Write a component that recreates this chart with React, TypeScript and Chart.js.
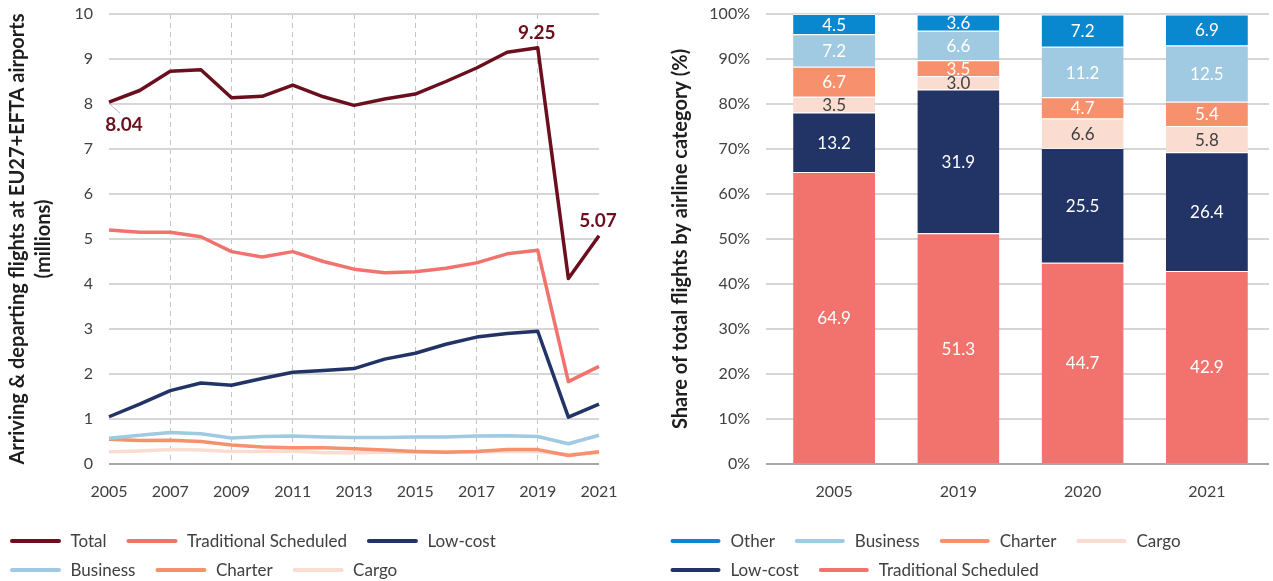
import React, { useEffect, useRef } from "react";
import { Chart, registerables } from "chart.js";

Chart.register(...registerables);
Chart.defaults.font.family = "Lato";

// ---------- Left chart data (millions of flights) ----------
const years = ["2005", "2006", "2007", "2008", "2009", "2010", "2011", "2012", "2013", "2014", "2015", "2016", "2017", "2018", "2019", "2020", "2021"];
const totalFlights = [8.04, 8.3, 8.73, 8.76, 8.14, 8.17, 8.42, 8.16, 7.97, 8.11, 8.22, 8.5, 8.8, 9.15, 9.25, 4.12, 5.07];
const traditionalFlights = [5.2, 5.15, 5.15, 5.05, 4.72, 4.6, 4.72, 4.5, 4.33, 4.25, 4.27, 4.35, 4.47, 4.67, 4.75, 1.83, 2.17];
const lowCostFlights = [1.05, 1.33, 1.63, 1.8, 1.75, 1.9, 2.04, 2.08, 2.12, 2.33, 2.46, 2.66, 2.82, 2.9, 2.95, 1.04, 1.33];
const businessFlights = [0.57, 0.64, 0.7, 0.67, 0.58, 0.61, 0.62, 0.6, 0.59, 0.59, 0.6, 0.6, 0.62, 0.63, 0.61, 0.45, 0.64];
const charterFlights = [0.55, 0.52, 0.53, 0.5, 0.42, 0.38, 0.36, 0.36, 0.34, 0.31, 0.28, 0.26, 0.28, 0.32, 0.32, 0.19, 0.27];
const cargoFlights = [0.27, 0.29, 0.32, 0.31, 0.28, 0.28, 0.29, 0.25, 0.25, 0.26, 0.26, 0.27, 0.27, 0.28, 0.28, 0.21, 0.25];
const highlightedTotalYears = ["2005", "2019", "2021"];
const leftTitle = ["Arriving & departing flights at EU27+EFTA airports", "(millions)"];

// ---------- Right chart data (share %) ----------
const shareYears = ["2005", "2019", "2020", "2021"];
const shareTraditional = [64.9, 51.3, 44.7, 42.9];
const shareLowCost = [13.2, 31.9, 25.5, 26.4];
const shareCargo = [3.5, 3.0, 6.6, 5.8];
const shareCharter = [6.7, 3.5, 4.7, 5.4];
const shareBusiness = [7.2, 6.6, 11.2, 12.5];
const shareOther = [4.5, 3.6, 7.2, 6.9];
const rightTitle = "Share of total flights by airline category (%)";

const C = {
  total: "#6b0f1e",
  trad: "#f2736e",
  low: "#223366",
  business: "#a0c9e2",
  charter: "#f7906d",
  cargo: "#fbdcd0",
  other: "#0988d0",
};

const TEXT = "#404040";

const lineLegendPlugin = {
  id: "lineLegend",
  afterDraw(chart: any, _args: any, opts: any) {
    const { ctx } = chart;
    let items = chart.data.datasets.map((d: any) => ({ label: d.label, color: d.legendColor || d.borderColor }));
    if (opts.reverse) items = items.slice().reverse();
    ctx.save();
    ctx.font = "17px Lato";
    ctx.textBaseline = "middle";
    ctx.textAlign = "left";
    let x = opts.x;
    let y = opts.y;
    items.forEach((it: any) => {
      const tw = ctx.measureText(it.label).width;
      const w = opts.lineLength + opts.textGap + tw;
      if (x > opts.x && x + w > opts.maxX) {
        x = opts.x;
        y += opts.rowGap;
      }
      ctx.strokeStyle = it.color;
      ctx.lineWidth = 4;
      ctx.lineCap = "round";
      ctx.beginPath();
      ctx.moveTo(x + 2, y);
      ctx.lineTo(x + opts.lineLength - 2, y);
      ctx.stroke();
      ctx.fillStyle = TEXT;
      ctx.fillText(it.label, x + opts.lineLength + opts.textGap, y + 1);
      x += w + opts.itemGap;
    });
    ctx.restore();
  },
};

const valueLabelsPlugin = {
  id: "valueLabels",
  afterDatasetsDraw(chart: any, _args: any, opts: any) {
    const { ctx } = chart;
    const meta = chart.getDatasetMeta(opts.datasetIndex);
    const ds = chart.data.datasets[opts.datasetIndex];
    ctx.save();
    ctx.font = "bold 19px Lato";
    ctx.textAlign = "center";
    ctx.textBaseline = "middle";
    opts.points.forEach((p: any) => {
      const idx = chart.data.labels.indexOf(p.label);
      const el = meta.data[idx];
      if (!el) return;
      if (p.leader) {
        ctx.strokeStyle = "#b8b8b8";
        ctx.lineWidth = 1;
        ctx.beginPath();
        ctx.moveTo(el.x + 1, el.y + 2);
        ctx.lineTo(el.x + p.leader[0], el.y + p.leader[1]);
        ctx.stroke();
      }
      ctx.fillStyle = ds.borderColor;
      ctx.fillText(ds.data[idx].toFixed(2), el.x + p.dx, el.y + p.dy);
    });
    ctx.restore();
  },
};

const barLabelsPlugin = {
  id: "barLabels",
  afterDatasetsDraw(chart: any) {
    const { ctx } = chart;
    ctx.save();
    ctx.font = "17px Lato";
    ctx.textAlign = "center";
    ctx.textBaseline = "middle";
    chart.data.datasets.forEach((ds: any, di: number) => {
      const meta = chart.getDatasetMeta(di);
      meta.data.forEach((bar: any, i: number) => {
        ctx.fillStyle = ds.labelColor;
        ctx.fillText(ds.data[i].toFixed(1), bar.x, (bar.y + bar.base) / 2 + 1);
      });
    });
    ctx.restore();
  },
};

const noScalePadding = (s: any) => {
  s.paddingTop = 0;
  s.paddingBottom = 0;
};

function LeftChart() {
  const ref = useRef<HTMLCanvasElement>(null);
  useEffect(() => {
    const mk = (label: string, data: number[], color: string) => ({
      label,
      data,
      borderColor: color,
      backgroundColor: color,
      borderWidth: 3.5,
      pointRadius: 0,
      tension: 0,
      borderJoinStyle: "round" as const,
      fill: false,
    });
    const chart = new Chart(ref.current!, {
      type: "line",
      data: {
        labels: years,
        datasets: [
          mk("Total", totalFlights, C.total),
          mk("Traditional Scheduled", traditionalFlights, C.trad),
          mk("Low-cost", lowCostFlights, C.low),
          mk("Business", businessFlights, C.business),
          mk("Charter", charterFlights, C.charter),
          mk("Cargo", cargoFlights, C.cargo),
        ],
      },
      options: {
        animation: false,
        responsive: false,
        devicePixelRatio: 1,
        layout: { padding: { left: 0, right: 41, top: 14, bottom: 67 } },
        plugins: {
          legend: { display: false },
          tooltip: { enabled: false },
          lineLegend: { x: 10, y: 541, lineLength: 51, textGap: 9.5, itemGap: 20, rowGap: 29, maxX: 560 },
          valueLabels: {
            datasetIndex: 0,
            points: [
              { label: highlightedTotalYears[0], dx: 15, dy: 23, leader: [11, 11] },
              { label: highlightedTotalYears[1], dx: -1, dy: -15 },
              { label: highlightedTotalYears[2], dx: -1, dy: -15 },
            ],
          },
        } as any,
        scales: {
          x: {
            offset: false,
            grid: {
              color: (c: any) => (c.index > 0 && c.index < years.length - 1 && c.index % 2 === 0 ? "#c4c4c4" : "rgba(0,0,0,0)"),
              lineWidth: 1,
              drawTicks: false,
            },
            border: { display: false, dash: [5, 4] },
            ticks: {
              autoSkip: false,
              maxRotation: 0,
              padding: 18,
              color: TEXT,
              font: { size: 16 },
              callback: (_v: any, i: number) => (i % 2 === 0 ? years[i] : ""),
            },
            afterFit: (s: any) => {
              s.height = 50;
            },
          },
          y: {
            min: 0,
            max: 10,
            grid: {
              color: (c: any) => (c.tick && c.tick.value === 0 ? "#a8a8a8" : "#d6d6d6"),
              lineWidth: 2,
              drawTicks: false,
            },
            border: { display: false },
            ticks: { stepSize: 1, padding: 16, color: TEXT, font: { size: 16 } },
            title: {
              display: true,
              text: leftTitle,
              color: "#1e1e1e",
              font: { size: 20, weight: "bold", lineHeight: 1.3 },
              padding: { top: 5, bottom: 0 },
            },
            afterFit: (s: any) => {
              s.width = 109;
              noScalePadding(s);
            },
          },
        },
      },
      plugins: [lineLegendPlugin, valueLabelsPlugin],
    } as any);
    return () => chart.destroy();
  }, []);
  return <canvas ref={ref} width={640} height={581} style={{ position: "absolute", left: 0, top: 0, width: 640, height: 581 }} />;
}

function RightChart() {
  const ref = useRef<HTMLCanvasElement>(null);
  useEffect(() => {
    const mk = (label: string, data: number[], color: string, labelColor: string) => ({
      label,
      data,
      backgroundColor: color,
      borderColor: "rgba(255,255,255,0.7)",
      legendColor: color,
      labelColor,
      borderWidth: { top: 1, bottom: 0, left: 0, right: 0 },
      borderSkipped: false,
      barPercentage: 0.66,
      categoryPercentage: 1,
    });
    const chart = new Chart(ref.current!, {
      type: "bar",
      data: {
        labels: shareYears,
        datasets: [
          mk("Traditional Scheduled", shareTraditional, C.trad, "#ffffff"),
          mk("Low-cost", shareLowCost, C.low, "#ffffff"),
          mk("Cargo", shareCargo, C.cargo, "#404040"),
          mk("Charter", shareCharter, C.charter, "#ffffff"),
          mk("Business", shareBusiness, C.business, "#ffffff"),
          mk("Other", shareOther, C.other, "#ffffff"),
        ],
      },
      options: {
        animation: false,
        responsive: false,
        devicePixelRatio: 1,
        layout: { padding: { left: 0, right: 4, top: 14, bottom: 67 } },
        plugins: {
          legend: { display: false },
          tooltip: { enabled: false },
          lineLegend: { x: 30.5, y: 541, lineLength: 50, textGap: 10, itemGap: 20, rowGap: 29, maxX: 620, reverse: true },
        } as any,
        scales: {
          x: {
            stacked: true,
            grid: { display: false, drawTicks: false },
            border: { display: false },
            ticks: { padding: 18, color: TEXT, font: { size: 16 }, maxRotation: 0 },
            afterFit: (s: any) => {
              s.height = 50;
            },
          },
          y: {
            stacked: true,
            min: 0,
            max: 100,
            grid: {
              color: (c: any) => (c.tick && c.tick.value === 0 ? "#a8a8a8" : "#d6d6d6"),
              tickColor: (c: any) => (c.tick && c.tick.value === 0 ? "#a8a8a8" : "#d6d6d6"),
              lineWidth: 2,
              tickWidth: 2,
              drawTicks: true,
              tickLength: 6,
            },
            border: { display: false },
            ticks: { stepSize: 10, padding: 16, color: TEXT, font: { size: 16 }, callback: (v: any) => v + "%" },
            title: {
              display: true,
              text: rightTitle,
              color: "#1e1e1e",
              font: { size: 20, weight: "bold", lineHeight: 1.2 },
              padding: { top: 29, bottom: 0 },
            },
            afterFit: (s: any) => {
              s.width = 132;
              noScalePadding(s);
            },
          },
        },
      },
      plugins: [lineLegendPlugin, barLabelsPlugin],
    } as any);
    return () => chart.destroy();
  }, []);
  return <canvas ref={ref} width={633} height={581} style={{ position: "absolute", left: 640, top: 0, width: 633, height: 581 }} />;
}

export default function App() {
  return (
    <div style={{ position: "fixed", left: 0, top: 0, width: 1273, height: 581, background: "#ffffff", overflow: "hidden" }}>
      <LeftChart />
      <RightChart />
    </div>
  );
}
